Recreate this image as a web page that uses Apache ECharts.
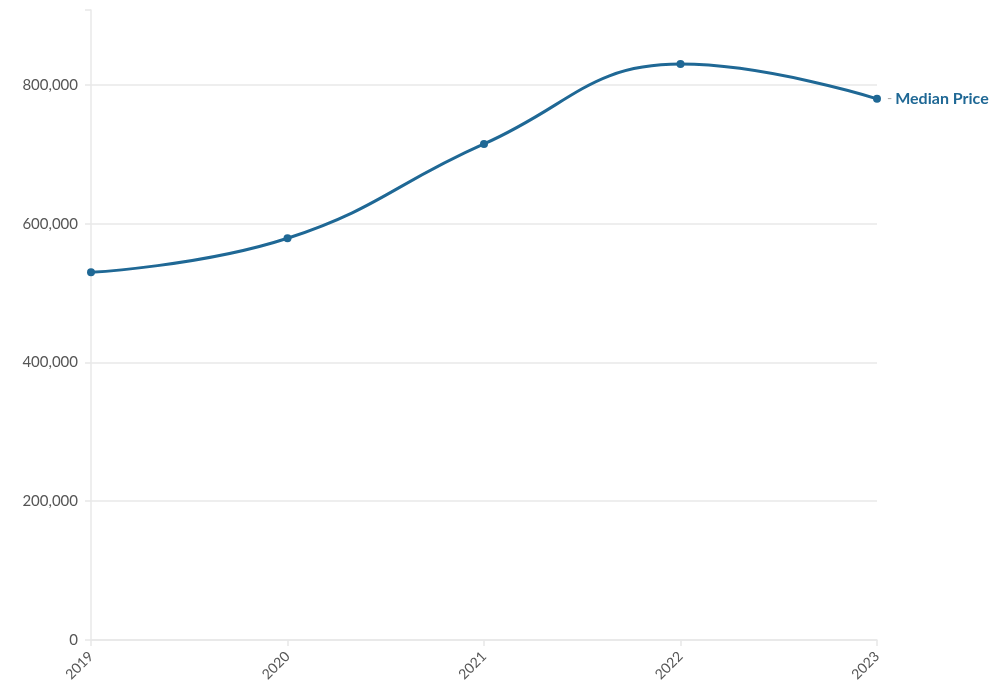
<!DOCTYPE html>
<html><head><meta charset="utf-8">
<script src="https://cdn.jsdelivr.net/npm/echarts@6/dist/echarts.min.js"></script>
<style>html,body{margin:0;padding:0;background:#fff}#c{width:995px;height:698px}</style>
</head><body><div id="c"></div>
<script>
const years = ['2019','2020','2021','2022','2023'];
const medianPrice = [530000, 579000, 715000, 830000, 780000];
const seriesName = 'Median Price';
const yTicks = [0, 200000, 400000, 600000, 800000];

const chart = echarts.init(document.getElementById('c'));
const FONT = '"Source Sans Pro", Lato, "Noto Sans", sans-serif';
const grid = '#e8e8e8';
chart.setOption({
  animation: false,
  textStyle: { fontFamily: FONT },
  grid: { left: 91, right: 118, top: 10, bottom: 58, containLabel: false },
  xAxis: {
    type: 'category', data: years, boundaryGap: false,
    axisLine: { lineStyle: { color: grid, width: 1.5 } },
    axisTick: { show: true, length: 6, lineStyle: { color: grid, width: 1.5 }, alignWithLabel: true },
    axisLabel: { rotate: 45, color: '#555', fontSize: 14, fontFamily: FONT, margin: 14 },
    splitLine: { show: false }
  },
  yAxis: {
    type: 'value', min: 0, max: 908000, interval: 200000,
    axisLine: { show: true, lineStyle: { color: grid, width: 1.5 } },
    axisTick: { show: true, length: 6, lineStyle: { color: grid, width: 1.5 } },
    axisLabel: {
      color: '#555', fontSize: 15, fontFamily: FONT, margin: 13,
      formatter: v => yTicks.indexOf(v) >= 0 ? v.toLocaleString('en-US') : ''
    },
    splitLine: { show: true, lineStyle: { color: [grid, grid, grid, grid, grid, 'rgba(0,0,0,0)'], width: 1.5 } }
  },
  series: [{
    name: seriesName, type: 'line', data: medianPrice, smooth: 0.45,
    symbol: 'circle', symbolSize: 8,
    lineStyle: { color: '#1f6895', width: 3 },
    itemStyle: { color: '#1f6895' },
    endLabel: {
      show: true, distance: 10,
      formatter: () => '{d|-}{n|' + seriesName + '}',
      rich: {
        d: { color: '#aaa', fontSize: 14, fontFamily: FONT, padding: [0, 3, 0, 0] },
        n: { color: '#1f6895', fontSize: 16, fontWeight: 'bold', fontFamily: FONT }
      }
    }
  }]
});
</script></body></html>
